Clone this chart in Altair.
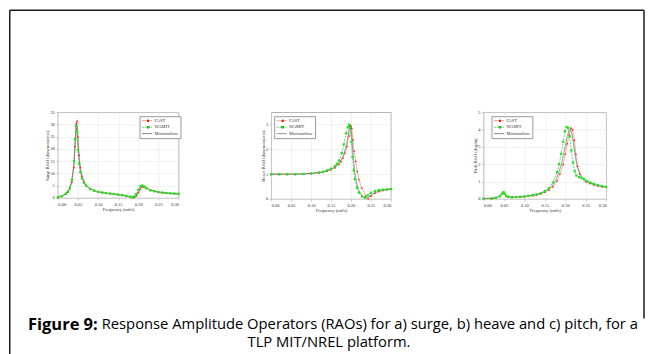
import altair as alt
import pandas as pd

SERIES = ["FAST", "WAMIT", "Morisonflow"]
LINE_COLORS = ["#f07a7a", "#33cc33", "#666666"]
MARK_SERIES = ["FAST", "WAMIT"]
MARK_COLORS = ["#ff1a1a", "#11ee11"]
MARK_SHAPES = ["triangle-up", "square"]
X_TICKS = [0.0, 0.05, 0.10, 0.15, 0.20, 0.25, 0.30]

# ---------------- Surge RAO (dimensionless) ----------------
surge_fast_f = [0.000, 0.010, 0.020, 0.025, 0.030, 0.035, 0.040, 0.043, 0.046, 0.048, 0.050, 0.053, 0.056, 0.060,
                0.065, 0.070, 0.080, 0.090, 0.100, 0.110, 0.120, 0.130, 0.140, 0.150, 0.160, 0.170, 0.180, 0.185,
                0.190, 0.195, 0.200, 0.205, 0.210, 0.215, 0.220, 0.230, 0.240, 0.250, 0.260, 0.270, 0.280, 0.290, 0.300]
surge_fast_v = [0.3, 0.7, 1.6, 2.4, 3.8, 6.5, 12.5, 21.0, 30.5, 31.5, 25.0, 17.5, 12.5, 9.0,
                6.8, 5.3, 3.9, 3.1, 2.6, 2.3, 2.0, 1.8, 1.6, 1.4, 1.2, 0.9, 0.5, 0.3,
                0.3, 0.9, 2.3, 3.7, 4.6, 4.7, 4.2, 3.3, 2.8, 2.4, 2.2, 2.0, 1.9, 1.8, 1.7]
surge_wamit_f = [0.000, 0.010, 0.020, 0.025, 0.030, 0.035, 0.040, 0.043, 0.045, 0.047, 0.050, 0.053, 0.056, 0.060,
                 0.065, 0.070, 0.080, 0.090, 0.100, 0.110, 0.120, 0.130, 0.140, 0.150, 0.160, 0.170, 0.180, 0.185,
                 0.190, 0.195, 0.200, 0.205, 0.210, 0.215, 0.220, 0.230, 0.240, 0.250, 0.260, 0.270, 0.280, 0.290, 0.300]
surge_wamit_v = [0.3, 0.8, 1.8, 2.7, 4.3, 7.5, 15.0, 24.0, 29.5, 27.0, 19.5, 14.0, 10.5, 8.0,
                 6.2, 5.0, 3.7, 3.0, 2.5, 2.2, 2.0, 1.8, 1.6, 1.4, 1.1, 0.8, 0.5, 0.4,
                 0.6, 1.6, 3.4, 4.8, 5.1, 4.6, 3.9, 3.1, 2.7, 2.4, 2.2, 2.0, 1.9, 1.8, 1.7]
surge_mor_f = [0.000, 0.010, 0.020, 0.030, 0.035, 0.040, 0.043, 0.046, 0.048, 0.050, 0.053, 0.056, 0.060, 0.070,
               0.080, 0.090, 0.100, 0.120, 0.140, 0.160, 0.170, 0.180, 0.190, 0.195, 0.200, 0.205, 0.210, 0.215,
               0.220, 0.230, 0.240, 0.250, 0.270, 0.300]
surge_mor_v = [0.3, 0.7, 1.7, 4.0, 7.0, 13.5, 22.5, 30.0, 29.0, 23.0, 16.0, 11.5, 8.5, 5.1,
               3.8, 3.0, 2.5, 1.9, 1.5, 1.1, 0.8, 0.4, 0.2, 0.6, 2.0, 3.9, 4.9, 4.8,
               4.2, 3.3, 2.8, 2.4, 2.0, 1.7]

# ---------------- Heave RAO (dimensionless) ----------------
heave_fast_f = [0.00, 0.02, 0.04, 0.06, 0.08, 0.10, 0.12, 0.13, 0.14, 0.15, 0.16, 0.17, 0.175, 0.18, 0.185, 0.19,
                0.195, 0.200, 0.202, 0.205, 0.208, 0.212, 0.216, 0.220, 0.227, 0.237, 0.243, 0.250, 0.260, 0.270,
                0.280, 0.290, 0.300]
heave_fast_v = [1.00, 1.00, 1.00, 1.00, 1.01, 1.03, 1.06, 1.09, 1.13, 1.19, 1.27, 1.40, 1.51, 1.66, 1.86, 2.13,
                2.55, 2.95, 2.86, 2.40, 1.93, 1.53, 1.12, 0.79, 0.45, 0.12, 0.02, 0.12, 0.24, 0.31,
                0.35, 0.38, 0.40]
heave_wamit_f = [0.00, 0.02, 0.04, 0.06, 0.08, 0.10, 0.12, 0.13, 0.14, 0.15, 0.16, 0.165, 0.17, 0.177, 0.182,
                 0.188, 0.192, 0.195, 0.198, 0.201, 0.204, 0.207, 0.210, 0.215, 0.220, 0.228, 0.235, 0.242, 0.250,
                 0.260, 0.270, 0.280, 0.290, 0.300]
heave_wamit_v = [1.00, 1.00, 1.00, 1.00, 1.01, 1.03, 1.07, 1.10, 1.15, 1.22, 1.33, 1.42, 1.55, 1.85, 2.20,
                 2.65, 2.90, 3.00, 2.85, 2.30, 1.70, 1.15, 0.80, 0.45, 0.25, 0.10, 0.05, 0.15, 0.25,
                 0.32, 0.36, 0.38, 0.39, 0.40]
heave_mor_f = [0.00, 0.04, 0.08, 0.10, 0.12, 0.14, 0.15, 0.16, 0.17, 0.18, 0.185, 0.19, 0.195, 0.198, 0.200,
               0.203, 0.206, 0.210, 0.215, 0.220, 0.230, 0.240, 0.250, 0.260, 0.280, 0.300]
heave_mor_v = [1.00, 1.00, 1.01, 1.03, 1.06, 1.13, 1.19, 1.28, 1.44, 1.72, 1.95, 2.28, 2.75, 3.02, 2.90,
               2.30, 1.65, 1.05, 0.60, 0.35, 0.10, 0.03, 0.15, 0.26, 0.35, 0.40]

# ---------------- Pitch RAO (deg/m) ----------------
pitch_fast_f = [0.00, 0.02, 0.03, 0.04, 0.045, 0.048, 0.051, 0.055, 0.06, 0.07, 0.08, 0.09, 0.10, 0.11, 0.12, 0.13,
                0.14, 0.15, 0.16, 0.17, 0.18, 0.187, 0.195, 0.200, 0.205, 0.210, 0.214, 0.218, 0.222, 0.226, 0.230,
                0.235, 0.240, 0.250, 0.260, 0.270, 0.280, 0.290, 0.300]
pitch_fast_v = [0.02, 0.03, 0.06, 0.15, 0.28, 0.38, 0.32, 0.18, 0.12, 0.10, 0.11, 0.12, 0.14, 0.17, 0.20, 0.24,
                0.30, 0.40, 0.53, 0.72, 1.05, 1.45, 2.00, 2.60, 3.20, 3.70, 4.10, 4.00, 3.40, 2.60, 1.90,
                1.45, 1.20, 1.00, 0.90, 0.82, 0.76, 0.72, 0.68]
pitch_wamit_f = [0.00, 0.02, 0.03, 0.04, 0.045, 0.049, 0.052, 0.056, 0.06, 0.07, 0.08, 0.09, 0.10, 0.11, 0.12, 0.13,
                 0.14, 0.15, 0.16, 0.17, 0.18, 0.185, 0.19, 0.195, 0.199, 0.203, 0.207, 0.211, 0.215, 0.219, 0.223,
                 0.227, 0.234, 0.240, 0.246, 0.254, 0.262, 0.270, 0.280, 0.290, 0.300]
pitch_wamit_v = [0.02, 0.03, 0.07, 0.17, 0.30, 0.40, 0.30, 0.17, 0.12, 0.10, 0.11, 0.13, 0.15, 0.18, 0.22, 0.27,
                 0.34, 0.45, 0.62, 0.95, 1.55, 2.00, 2.60, 3.30, 3.90, 4.15, 4.10, 3.60, 2.80, 2.10, 1.60,
                 1.35, 1.26, 1.20, 1.13, 1.02, 0.94, 0.86, 0.80, 0.74, 0.69]
pitch_mor_f = [0.00, 0.03, 0.04, 0.048, 0.055, 0.06, 0.08, 0.10, 0.12, 0.14, 0.16, 0.17, 0.18, 0.19, 0.195, 0.20,
               0.205, 0.21, 0.213, 0.216, 0.22, 0.225, 0.23, 0.24, 0.25, 0.26, 0.28, 0.30]
pitch_mor_v = [0.02, 0.06, 0.16, 0.37, 0.18, 0.12, 0.11, 0.14, 0.21, 0.32, 0.57, 0.80, 1.25, 1.95, 2.45, 3.05,
               3.60, 4.00, 4.05, 3.80, 3.20, 2.40, 1.80, 1.30, 1.05, 0.92, 0.77, 0.67]

CAPTION_BOLD = "Figure 9:"
CAPTION_1 = "Response Amplitude Operators (RAOs) for a) surge, b) heave and c) pitch, for a"
CAPTION_2 = "TLP MIT/NREL platform."

SERIF = "Liberation Serif"
FS = 4.5


def make_df(data):
    rows = []
    for name, (fs, vs) in data.items():
        for f, v in zip(fs, vs):
            rows.append({"series": name, "mseries": name, "freq": f, "rao": v})
    return pd.DataFrame(rows)


def legends(lx, ly):
    leg_a = alt.Legend(orient="none", legendX=lx, legendY=ly, title=None, symbolType="stroke",
                       symbolSize=100, symbolStrokeWidth=0.8, labelFont=SERIF, labelFontSize=FS,
                       labelColor="#333333", fillColor="white", strokeColor="#9a9a9a", padding=2,
                       rowPadding=0.5, clipHeight=5, labelOffset=2, zindex=1)
    leg_b = alt.Legend(orient="none", legendX=lx, legendY=ly, title=None, symbolSize=5,
                       symbolStrokeWidth=0, labelFont=SERIF, labelFontSize=FS, labelExpr="''",
                       padding=2, rowPadding=0.5, clipHeight=5, labelOffset=0, symbolOffset=4.3,
                       zindex=2)
    return leg_a, leg_b


def panel(data, ymax, yticks, ytitle, w, h, lx, ly, extra=()):
    df = make_df(data)
    leg_a, leg_b = legends(lx, ly)
    x = alt.X("freq:Q", scale=alt.Scale(domain=[0, 0.3], nice=False, zero=False),
              axis=alt.Axis(values=X_TICKS, format=".2f", title="Frequency (rad/s)"))
    y = alt.Y("rao:Q", scale=alt.Scale(domain=[0, ymax], nice=False),
              axis=alt.Axis(values=yticks, title=ytitle))
    lines = alt.Chart(df).mark_line(strokeWidth=0.7).encode(
        x=x, y=y,
        color=alt.Color("series:N", scale=alt.Scale(domain=SERIES, range=LINE_COLORS), legend=leg_a),
        strokeDash=alt.StrokeDash("series:N", scale=alt.Scale(domain=SERIES, range=[[1, 0], [2, 1], [1, 0]]),
                                  legend=leg_a),
    )
    pts = alt.Chart(df[df["series"] != "Morisonflow"]).mark_point(
        filled=True, size=5, strokeWidth=0, opacity=1).encode(
        x=x, y=y,
        fill=alt.Fill("mseries:N", sort=MARK_SERIES, scale=alt.Scale(range=MARK_COLORS), legend=leg_b),
        shape=alt.Shape("mseries:N", sort=MARK_SERIES, scale=alt.Scale(range=MARK_SHAPES), legend=leg_b),
    )
    return alt.layer(lines, pts, *extra).properties(width=w, height=h)


one = pd.DataFrame({"k": [0]})
BORDER = "#1a1a1a"


def vrule(xv, y1, y2):
    return alt.Chart(one).mark_rule(color=BORDER, strokeWidth=1.5).encode(
        x=alt.value(xv), y=alt.value(y1), y2=alt.value(y2))


def hrule(x1, x2, yv):
    return alt.Chart(one).mark_rule(color=BORDER, strokeWidth=1.5).encode(
        x=alt.value(x1), x2=alt.value(x2), y=alt.value(yv))


def text(t, xv, yv, align, size, weight="normal"):
    return alt.Chart(one).mark_text(text=t, font="Open Sans", fontSize=size, fontWeight=weight,
                                    align=align, baseline="middle", color="black").encode(
        x=alt.value(xv), y=alt.value(yv))


# decorations placed relative to the first panel's plot origin (57, 111)
L = -48.25
R = 588.0
T = -102.25
decor = [
    hrule(L, R, T),
    vrule(L, T, 243),
    vrule(R, T, 207),
    text(CAPTION_BOLD, 40, 213.5, "right", 16.5, "bold"),
    text(CAPTION_1, 44, 213.5, "left", 14.8),
    text(CAPTION_2, 272, 231.5, "center", 14.8),
]

p1 = panel({"FAST": (surge_fast_f, surge_fast_v), "WAMIT": (surge_wamit_f, surge_wamit_v),
            "Morisonflow": (surge_mor_f, surge_mor_v)},
           35, [0, 5, 10, 15, 20, 25, 30, 35], "Surge RAO (dimensionless)", 121, 86, 82, 4, decor)
p2 = panel({"FAST": (heave_fast_f, heave_fast_v), "WAMIT": (heave_wamit_f, heave_wamit_v),
            "Morisonflow": (heave_mor_f, heave_mor_v)},
           3.5, [0, 1, 2, 3], "Heave RAO (dimensionless)", 120, 87, 3, 4)
p3 = panel({"FAST": (pitch_fast_f, pitch_fast_v), "WAMIT": (pitch_wamit_f, pitch_wamit_v),
            "Morisonflow": (pitch_mor_f, pitch_mor_v)},
           5, [0, 1, 2, 3, 4, 5], "Pitch RAO (deg/m)", 123, 87, 8, 4)

chart = alt.hconcat(p1, p2, p3, spacing=93, bounds="flush").resolve_scale(
    color="independent", fill="independent", shape="independent", strokeDash="independent"
).properties(
    padding=0
).configure(
    padding=0
).configure_view(
    stroke="#a0a0a0", strokeWidth=0.8
).configure_axis(
    labelFont=SERIF, labelFontSize=FS, titleFont=SERIF, titleFontSize=FS, titleFontWeight="normal",
    labelColor="#333333", titleColor="#333333", grid=True, gridColor="#e2e2e2", gridWidth=0.5,
    domain=False, tickSize=2, tickColor="#999999", tickWidth=0.5, labelPadding=1.5, titlePadding=1
).configure_axisY(titlePadding=0)

chart.save("out.html", embed_options={"renderer": "svg", "actions": False})
